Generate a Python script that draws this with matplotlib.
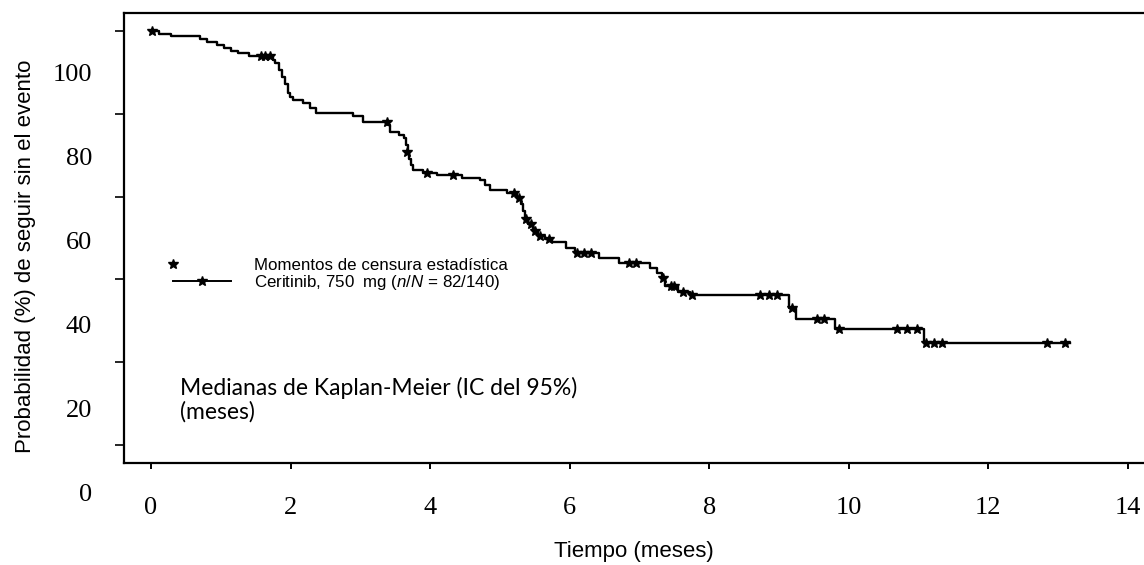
"""
Curva de Kaplan-Meier (ceritinib 750 mg) - reproduction du scan.
Les etiquettes de l'axe Y sont decalees par rapport aux graduations, comme sur l'original.
"""

import matplotlib
matplotlib.use("Agg")
import matplotlib.pyplot as plt
from matplotlib.lines import Line2D
from matplotlib.legend_handler import HandlerLine2D, HandlerLine2DCompound

plt.rcParams["mathtext.fontset"] = "custom"
plt.rcParams["mathtext.it"] = "Liberation Sans:italic"
plt.rcParams["mathtext.rm"] = "Liberation Sans"

#  Donnees

# temps (mois) et survie (%) apres chaque marche
km_t = [0.0, 0.12, 0.28, 0.70, 0.80, 0.95, 1.05, 1.15, 1.25, 1.40, 1.75, 1.78,
        1.83, 1.88, 1.92, 1.96, 1.99, 2.03, 2.18, 2.28, 2.37, 2.90, 3.04, 3.40,
        3.42, 3.55, 3.62, 3.66, 3.68, 3.70, 3.72, 3.75, 3.90, 4.10, 4.45, 4.71,
        4.78, 4.86, 5.10, 5.25, 5.30, 5.33, 5.36, 5.40, 5.47, 5.55, 5.65, 5.75,
        5.95, 6.07, 6.42, 6.70, 7.15, 7.25, 7.32, 7.36, 7.55, 7.72, 9.14, 9.25,
        9.80, 11.08, 13.17]
km_s = [100.0, 99.3, 98.7, 98.0, 97.4, 96.6, 95.8, 95.1, 94.6, 93.9, 93.0, 92.2,
        90.6, 88.9, 87.3, 85.0, 84.1, 83.3, 82.6, 81.4, 80.3, 79.5, 78.0, 77.2,
        75.6, 74.8, 74.1, 72.5, 70.8, 69.2, 67.6, 66.5, 65.8, 65.2, 64.6, 64.0,
        62.8, 61.6, 60.8, 59.6, 58.2, 56.6, 54.6, 53.4, 51.8, 50.6, 49.8, 49.0,
        47.6, 46.4, 45.2, 44.0, 42.8, 41.6, 40.3, 38.3, 37.0, 36.2, 33.1, 30.5,
        28.1, 24.6, 24.6]

# censures
cens_t = [0.02, 1.58, 1.64, 1.70, 3.38, 3.67, 3.95, 4.33, 5.20, 5.27, 5.37,
          5.45, 5.50, 5.58, 5.70, 6.10, 6.20, 6.30, 6.85, 6.95, 7.33, 7.45,
          7.50, 7.62, 7.75, 8.72, 8.85, 8.97, 9.18, 9.55, 9.65, 9.86, 10.69,
          10.83, 10.97, 11.10, 11.22, 11.33, 12.84, 13.10]
cens_s = [100.0, 93.9, 93.9, 93.9, 78.0, 70.8, 65.8, 65.2, 60.8, 59.6, 54.6,
          53.4, 51.8, 50.6, 49.8, 46.4, 46.4, 46.4, 44.0, 44.0, 40.3, 38.3,
          38.3, 37.0, 36.2, 36.2, 36.2, 36.2, 33.1, 30.5, 30.5, 28.1, 28.1,
          28.1, 28.1, 24.6, 24.6, 24.6, 24.6, 24.6]

x_ticks = [0, 2, 4, 6, 8, 10, 12, 14]
y_ticks = [0, 20, 40, 60, 80, 100]
y_labels = ["0", "20", "40", "60", "80", "100"]

W, H = 1144, 565


class HandlerLeftMarker(HandlerLine2DCompound):
    # marqueur seul, a gauche de la zone de la poignee
    def get_xdata(self, legend, xdescent, ydescent, width, height, fontsize):
        xdata, xm = super().get_xdata(legend, xdescent, ydescent,
                                      width, height, fontsize)
        return xdata, xm[:1]


#  Figure

fig = plt.figure(figsize=(W / 100, H / 100), dpi=100)
fig.patch.set_facecolor("white")

# axes principal : cadre de 124 a 1144 px, de 13 a 463 px
ax = fig.add_axes([124 / W, (H - 463) / H, 1020 / W, 450 / H])
ax.step(km_t, km_s, where="post", color="black", lw=1.7)
ax.plot(cens_t, cens_s, ls="none", marker="*", ms=7, color="black")

ax.set_xlim(-0.387, 14.23)
ax.set_ylim(-4.35, 104.35)
ax.set_xticks(x_ticks)
ax.set_xticklabels([str(v) for v in x_ticks], family="Liberation Serif",
                   fontsize=19)
ax.set_yticks(y_ticks)
ax.set_yticklabels([])
ax.tick_params(axis="y", direction="out", length=6.5, width=1.2)
ax.tick_params(axis="x", direction="out", length=4.5, width=1.4, pad=20)
for side in ("left", "bottom", "top"):
    ax.spines[side].set_linewidth(1.6)
ax.spines["right"].set_visible(False)
ax.set_xlabel("Tiempo (meses)", family="Liberation Sans", fontsize=16,
              labelpad=16)

# axe secondaire, juste pour les etiquettes Y decalees du scan
ax_lab = fig.add_axes([124 / W, (H - 500) / H, 1020 / W, 487 / H], zorder=-1)
ax_lab.patch.set_visible(False)
for sp in ax_lab.spines.values():
    sp.set_visible(False)
ax_lab.set_ylim(-1.9, 114.05)
ax_lab.set_yticks(y_ticks)
ax_lab.set_yticklabels(y_labels, family="Liberation Serif", fontsize=19)
ax_lab.tick_params(axis="y", length=0, pad=23)
ax_lab.set_xticks([])
ax_lab.set_ylabel("Probabilidad (%) de seguir sin el evento",
                  family="Liberation Sans", fontsize=16, labelpad=12)

# legende
h_cens = Line2D([0, 1], [0, 0], ls="none", marker="*", ms=7, color="black")
h_curve = Line2D([0, 1], [0, 0], color="black", lw=1.4, marker="*", ms=7)
ax.legend([h_cens, h_curve],
          ["Momentos de censura estadística",
           r"Ceritinib, 750  mg ($n/N$ = 82/140)"],
          handler_map={h_cens: HandlerLeftMarker(numpoints=2, marker_pad=0),
                       h_curve: HandlerLine2D(numpoints=1)},
          loc="upper left", bbox_to_anchor=(0.048, 0.455), frameon=False,
          borderpad=0, borderaxespad=0, labelspacing=0.0,
          handlelength=3.4, handletextpad=1.4,
          prop={"family": "Liberation Sans", "size": 12.2})

ax.text(0.055, 0.14, "Medianas de Kaplan-Meier (IC del 95%)\n(meses)",
        transform=ax.transAxes, ha="left", va="center",
        family="Lato", fontsize=16.5, linespacing=1.1)

fig.savefig("out.png", dpi=100)
